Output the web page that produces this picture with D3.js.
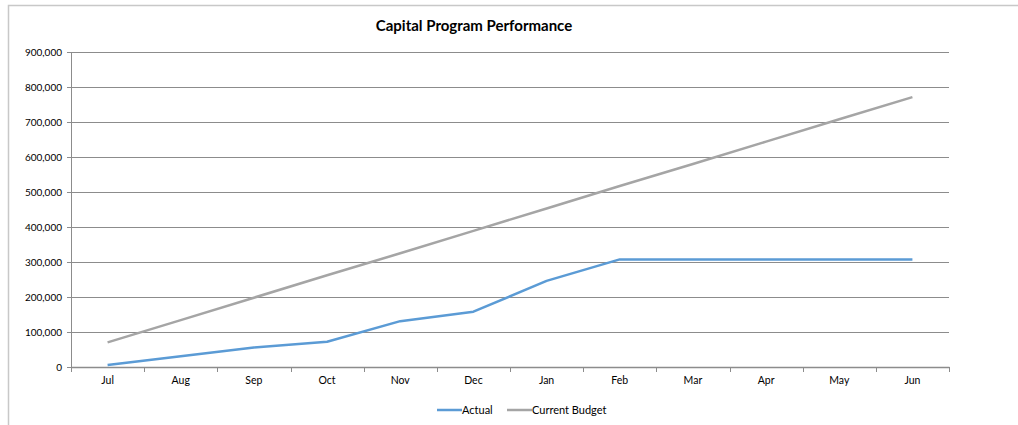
<!DOCTYPE html>
<html>
<head>
<meta charset="utf-8">
<script src="https://cdn.jsdelivr.net/npm/d3@7"></script>
<style>
  body { margin: 0; background: #fff; }
  text { font-family: Lato, "Open Sans", sans-serif; fill: #000; }
</style>
</head>
<body>
<div id="chart"></div>
<script>
/* Chart values */
let months = ["Jul", "Aug", "Sep", "Oct", "Nov", "Dec", "Jan", "Feb", "Mar", "Apr", "May", "Jun"];
let actual = [5700, 31000, 56000, 72000, 131000, 158000, 246000, 307500, 307500, 307500, 307500, 307500];
let budget = [70500, 134000, 198000, 262000, 325000, 389000, 453000, 517000, 580000, 644000, 708000, 771000];
let yTicks = [0, 100000, 200000, 300000, 400000, 500000, 600000, 700000, 800000, 900000];
let seriesNames = ["Actual", "Current Budget"];
let seriesColors = ["#5b9bd5", "#a5a5a5"];

let width = 1018;
let height = 425;
let margin = {top: 52, bottom: 58, left: 71, right: 69};
let pWidth = width - margin.left - margin.right;
let pHeight = height - margin.top - margin.bottom;

let svg = d3.select("#chart").append("svg")
            .attr("width", width)
            .attr("height", height);

// chart border (only top and left visible in the crop)
svg.append("path")
   .attr("d", "M8.5,425 L8.5,5.5 L1018,5.5")
   .attr("fill", "none")
   .attr("stroke", "#c8c8c8")
   .attr("stroke-width", 1.5);

svg.append("text")
   .attr("x", 474)
   .attr("y", 31)
   .attr("text-anchor", "middle")
   .style("font-size", "15px")
   .style("font-weight", "bold")
   .text("Capital Program Performance");

let xScale = d3.scaleBand()
               .domain(months)
               .range([0, pWidth]);

let yScale = d3.scaleLinear()
               .domain([0, 900000])
               .range([pHeight, 0]);

let plot = svg.append("g")
              .attr("transform", `translate(${margin.left}, ${margin.top})`);

// horizontal gridlines
plot.append("g")
    .selectAll("line")
    .data(yTicks.filter(d => d > 0))
    .join("line")
      .attr("x1", 0)
      .attr("x2", pWidth)
      .attr("y1", d => Math.round(yScale(d)) + 0.5)
      .attr("y2", d => Math.round(yScale(d)) + 0.5)
      .attr("stroke", "#8c8c8c")
      .attr("stroke-width", 1);

// y axis
let yAxis = plot.append("g")
    .call(d3.axisLeft(yScale)
            .tickValues(yTicks)
            .tickSize(4)
            .tickPadding(5)
            .tickFormat(d3.format(",")));
yAxis.select(".domain").attr("stroke", "#8c8c8c");
yAxis.selectAll(".tick line").attr("stroke", "#8c8c8c");
yAxis.selectAll("text").style("font-size", "10px");

// x axis with ticks between categories
let xAxis = plot.append("g")
    .attr("transform", `translate(0, ${pHeight})`)
    .call(d3.axisBottom(xScale).tickSize(0).tickPadding(10));
xAxis.select(".domain").attr("stroke", "#8c8c8c").attr("stroke-width", 1.5);
xAxis.selectAll("text").style("font-size", "10.5px");

plot.append("g")
    .selectAll("line")
    .data(months.map((m, i) => i).concat([months.length]))
    .join("line")
      .attr("x1", i => Math.round(i * xScale.step()) + 0.5)
      .attr("x2", i => Math.round(i * xScale.step()) + 0.5)
      .attr("y1", pHeight)
      .attr("y2", pHeight + 5)
      .attr("stroke", "#8c8c8c");

let line = d3.line()
             .x((d, i) => xScale(months[i]) + xScale.bandwidth() / 2)
             .y(d => yScale(d))
             .curve(d3.curveLinear);

[actual, budget].forEach((series, s) => {
  plot.append("path")
      .attr("d", line(series))
      .attr("fill", "none")
      .attr("stroke", seriesColors[s])
      .attr("stroke-width", 2.5)
      .attr("stroke-linejoin", "round");
});

// legend
let legendX = [437, 507];
let legend = svg.append("g");
seriesNames.forEach((name, s) => {
  legend.append("line")
        .attr("x1", legendX[s])
        .attr("x2", legendX[s] + 25)
        .attr("y1", 410)
        .attr("y2", 410)
        .attr("stroke", seriesColors[s])
        .attr("stroke-width", 2.5);
  legend.append("text")
        .attr("x", legendX[s] + 25)
        .attr("y", 414)
        .style("font-size", "11px")
        .text(name);
});
</script>
</body>
</html>
